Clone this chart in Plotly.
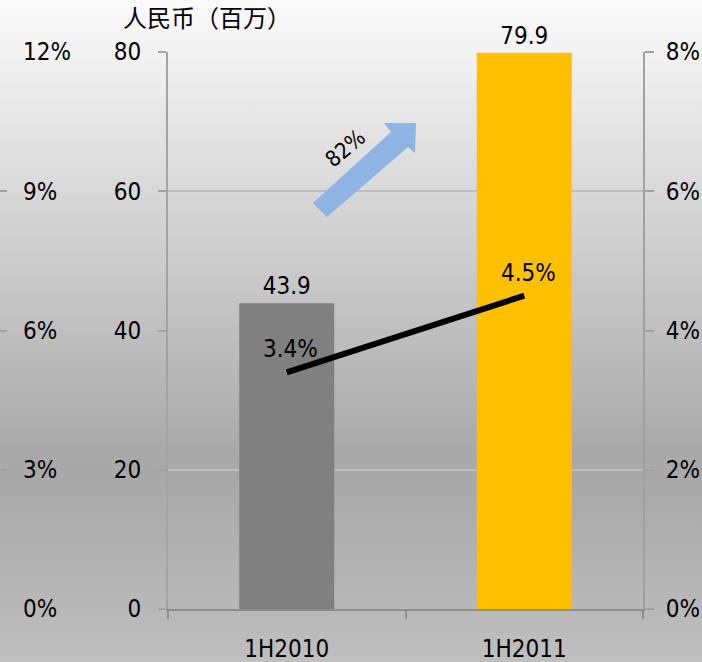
import plotly.graph_objects as go
import base64

# ---- data ----
categories = ["1H2010", "1H2011"]
revenue = [43.9, 79.9]              # 人民币（百万）
margin_pct = [3.4, 4.5]             # %
bar_colors = ["#808080", "#FFC000"]
growth_label = "82%"
title_text = "人民币（百万）"

W, H = 702, 662
FONT = "DejaVu Sans Condensed, Liberation Sans Narrow, Arial Narrow, sans-serif"

def px(x, y):
    return x / W, 1 - y / H

fig = go.Figure()

fig.add_trace(go.Bar(
    x=categories, y=revenue,
    marker=dict(color=bar_colors, line=dict(width=0)),
    text=[f"{v:.1f}" for v in revenue],
    textposition="outside",
    textfont=dict(family=FONT, size=24, color="#000000"),
    cliponaxis=False,
    showlegend=False,
    hoverinfo="skip",
))

fig.add_trace(go.Scatter(
    x=categories, y=margin_pct, yaxis="y2",
    mode="lines",
    line=dict(color="#000000", width=6),
    cliponaxis=False,
    showlegend=False,
    hoverinfo="skip",
))

# empty trace to materialise the far-left percent axis
fig.add_trace(go.Scatter(x=categories, y=[None, None], yaxis="y3",
                         showlegend=False, hoverinfo="skip"))

# background gradient as svg data uri
svg = (
    '<svg xmlns="http://www.w3.org/2000/svg" width="702" height="662" preserveAspectRatio="none">'
    '<defs><linearGradient id="g" x1="0" y1="0" x2="0" y2="1">'
    '<stop offset="0" stop-color="#fafafa"/>'
    '<stop offset="0.07" stop-color="#f3f3f3"/>'
    '<stop offset="0.29" stop-color="#d8d8d8"/>'
    '<stop offset="0.5" stop-color="#bfbfbf"/>'
    '<stop offset="0.68" stop-color="#a9a9aa"/>'
    '<stop offset="0.72" stop-color="#a8a8a8"/>'
    '<stop offset="0.85" stop-color="#b2b2b2"/>'
    '<stop offset="1" stop-color="#bfbfbf"/>'
    '</linearGradient></defs>'
    '<rect x="0" y="0" width="702" height="662" fill="url(#g)"/></svg>'
)
svg_uri = "data:image/svg+xml;base64," + base64.b64encode(svg.encode()).decode()

# arrow polygon (pixel coordinates of decoration)
arrow_px = [(313, 203), (391, 132), (384, 123), (416, 123), (415, 153), (408, 147), (327, 217)]
path = "M " + " L ".join(f"{px(x, y)[0]:.5f},{px(x, y)[1]:.5f}" for x, y in arrow_px) + " Z"

tick_font = dict(family=FONT, size=24, color="#000000")

line_labels = [
    dict(text=f"{v:.1f}%", x=c, y=v, xref="x", yref="y2",
         xanchor="center", yanchor="middle", yshift=23, xshift=4,
         showarrow=False, font=dict(family=FONT, size=24, color="#000000"))
    for c, v in zip(categories, margin_pct)
]

fig.update_layout(
    width=W, height=H,
    margin=dict(l=0, r=0, t=0, b=0),
    paper_bgcolor="#bfbfbf",
    plot_bgcolor="rgba(0,0,0,0)",
    bargap=0.6,
    images=[dict(source=svg_uri, xref="paper", yref="paper", x=0, y=1,
                 sizex=1, sizey=1, sizing="stretch", layer="below",
                 xanchor="left", yanchor="top")],
    xaxis=dict(
        domain=[168 / W, 643 / W],
        type="category",
        showline=True, linecolor="#8c8c8c", linewidth=2,
        ticks="outside", ticklen=8, tickwidth=1.5, tickcolor="#8c8c8c",
        tickson="boundaries",
        showgrid=False, zeroline=False,
        tickfont=tick_font,
        ticklabelstandoff=17,
        automargin=False,
    ),
    yaxis=dict(
        domain=[1 - 609 / H, 1 - 52 / H],
        range=[0, 80], dtick=20,
        showline=True, linecolor="#a3a3a3", linewidth=2,
        ticks="outside", ticklen=8, tickwidth=1.5, tickcolor="#a3a3a3",
        showgrid=True, gridcolor="#bdbdbd", gridwidth=1.5,
        zeroline=False,
        tickfont=tick_font,
        ticklabelstandoff=12,
        automargin=False,
    ),
    yaxis2=dict(
        overlaying="y", side="right", anchor="x",
        range=[0, 8], dtick=2, ticksuffix="%",
        showline=True, linecolor="#a0a0a0", linewidth=2,
        ticks="outside", ticklen=9, tickwidth=1.5, tickcolor="#a0a0a0",
        showgrid=False, zeroline=False,
        tickfont=tick_font,
        ticklabelstandoff=7,
        automargin=False,
    ),
    yaxis3=dict(
        overlaying="y", side="right", anchor="free", position=7 / W,
        range=[0, 12], dtick=3, ticksuffix="%",
        showline=False,
        ticks="inside", ticklen=8, tickwidth=1.5, tickcolor="#a0a0a0",
        showgrid=False, zeroline=False,
        tickfont=tick_font,
        ticklabelstandoff=15,
        automargin=False,
    ),
    shapes=[dict(type="path", path=path, xref="paper", yref="paper",
                 fillcolor="#8DB4E2", line=dict(width=0), layer="above")],
    annotations=[
        dict(text=title_text, xref="paper", yref="paper",
             x=px(207, 0)[0], y=px(0, 17)[1], xanchor="center", yanchor="middle",
             showarrow=False,
             font=dict(family="Noto Sans CJK SC", size=24, color="#000000")),
        dict(text=growth_label, xref="paper", yref="paper",
             x=px(345, 148)[0], y=px(345, 148)[1], xanchor="center", yanchor="middle",
             textangle=-40, showarrow=False,
             font=dict(family=FONT, size=22, color="#000000")),
    ] + line_labels,
)

fig.write_html("out.html", config={"displayModeBar": False},
               post_script="document.body.style.margin='0';document.body.style.overflow='hidden';")
